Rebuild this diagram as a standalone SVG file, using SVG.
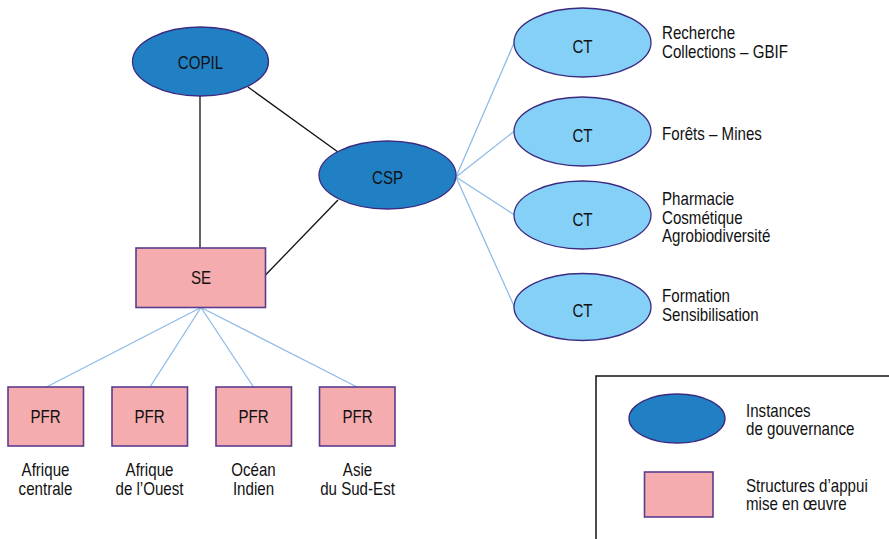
<svg xmlns="http://www.w3.org/2000/svg" width="889" height="539" viewBox="0 0 889 539">
<style>
text{font-family:"Liberation Sans",Arial,sans-serif;font-size:18px;fill:#111;}
.c{text-anchor:middle;}
.gov{fill:#2180c4;stroke:#3b2a80;stroke-width:1.3;}
.ct{fill:#84d0f6;stroke:#3b2a80;stroke-width:1.3;}
.box{fill:#f4acae;stroke:#5a3c8f;stroke-width:1.6;}
.k{stroke:#111;stroke-width:1.3;fill:none;}
.b{stroke:#8fbbe6;stroke-width:1.3;fill:none;}
</style>
<rect width="889" height="539" fill="#fff"/>
<g id="connectors">
<line class="k" x1="200" y1="96" x2="200" y2="248"/>
<line class="k" x1="248" y1="87" x2="338" y2="152"/>
<line class="k" x1="338" y1="200" x2="265.5" y2="275"/>
<line class="b" x1="456" y1="177" x2="514.5" y2="42"/>
<line class="b" x1="456" y1="177" x2="514.5" y2="131"/>
<line class="b" x1="456" y1="177" x2="514.5" y2="215"/>
<line class="b" x1="456" y1="177" x2="514.5" y2="307"/>
<line class="b" x1="201" y1="307.5" x2="46.5" y2="387"/>
<line class="b" x1="201" y1="307.5" x2="150" y2="387"/>
<line class="b" x1="201" y1="307.5" x2="253.5" y2="387"/>
<line class="b" x1="201" y1="307.5" x2="357" y2="387"/>
</g>
<g id="copil"><ellipse class="gov" cx="200.5" cy="61.5" rx="68" ry="34.5"/><text class="c" transform="translate(200.5 69) scale(0.84 1)">COPIL</text></g>
<g id="csp"><ellipse class="gov" cx="387.5" cy="175" rx="68.5" ry="34"/><text class="c" transform="translate(387.5 184) scale(0.84 1)">CSP</text></g>
<g id="se"><rect class="box" x="136" y="248" width="129.5" height="59.5"/><text class="c" transform="translate(201 284) scale(0.84 1)">SE</text></g>
<g id="ct1"><ellipse class="ct" cx="582.5" cy="42.5" rx="68.5" ry="34.5"/><text class="c" transform="translate(582.5 53) scale(0.84 1)">CT</text>
<text transform="translate(662 39) scale(0.84 1)">Recherche</text><text transform="translate(662 58) scale(0.84 1)">Collections – GBIF</text></g>
<g id="ct2"><ellipse class="ct" cx="582.5" cy="131.5" rx="68.5" ry="34.5"/><text class="c" transform="translate(582.5 142) scale(0.84 1)">CT</text>
<text transform="translate(662 140) scale(0.84 1)">Forêts – Mines</text></g>
<g id="ct3"><ellipse class="ct" cx="582.5" cy="215" rx="68.5" ry="34"/><text class="c" transform="translate(582.5 226) scale(0.84 1)">CT</text>
<text transform="translate(662 205) scale(0.84 1)">Pharmacie</text><text transform="translate(662 223.5) scale(0.84 1)">Cosmétique</text><text transform="translate(662 242) scale(0.84 1)">Agrobiodiversité</text></g>
<g id="ct4"><ellipse class="ct" cx="582.5" cy="307" rx="68.5" ry="33.5"/><text class="c" transform="translate(582.5 317) scale(0.84 1)">CT</text>
<text transform="translate(662 302) scale(0.84 1)">Formation</text><text transform="translate(662 321) scale(0.84 1)">Sensibilisation</text></g>
<g id="pfr1"><rect class="box" x="8" y="387" width="75.5" height="59"/><text class="c" transform="translate(45.5 423) scale(0.84 1)">PFR</text>
<text class="c" transform="translate(45.5 476) scale(0.84 1)">Afrique</text><text class="c" transform="translate(45.5 494.5) scale(0.84 1)">centrale</text></g>
<g id="pfr2"><rect class="box" x="112" y="387" width="75.5" height="59"/><text class="c" transform="translate(149.5 423) scale(0.84 1)">PFR</text>
<text class="c" transform="translate(149.5 476) scale(0.84 1)">Afrique</text><text class="c" transform="translate(149.5 494.5) scale(0.84 1)">de l’Ouest</text></g>
<g id="pfr3"><rect class="box" x="216" y="387" width="75.5" height="59"/><text class="c" transform="translate(253.5 423) scale(0.84 1)">PFR</text>
<text class="c" transform="translate(253.5 476) scale(0.84 1)">Océan</text><text class="c" transform="translate(253.5 494.5) scale(0.84 1)">Indien</text></g>
<g id="pfr4"><rect class="box" x="319.5" y="387" width="75.5" height="59"/><text class="c" transform="translate(357.5 423) scale(0.84 1)">PFR</text>
<text class="c" transform="translate(357.5 476) scale(0.84 1)">Asie</text><text class="c" transform="translate(357.5 494.5) scale(0.84 1)">du Sud-Est</text></g>
<g id="legend">
<rect x="596" y="376" width="300" height="170" fill="none" stroke="#111" stroke-width="1.5"/>
<ellipse class="gov" cx="677" cy="418.5" rx="48" ry="24.5"/>
<text transform="translate(746 417) scale(0.84 1)">Instances</text><text transform="translate(746 435) scale(0.84 1)">de gouvernance</text>
<rect class="box" x="644.5" y="472" width="68.5" height="45"/>
<text transform="translate(746 492) scale(0.84 1)">Structures d’appui</text><text transform="translate(746 510) scale(0.84 1)">mise en œuvre</text>
</g>
</svg>
